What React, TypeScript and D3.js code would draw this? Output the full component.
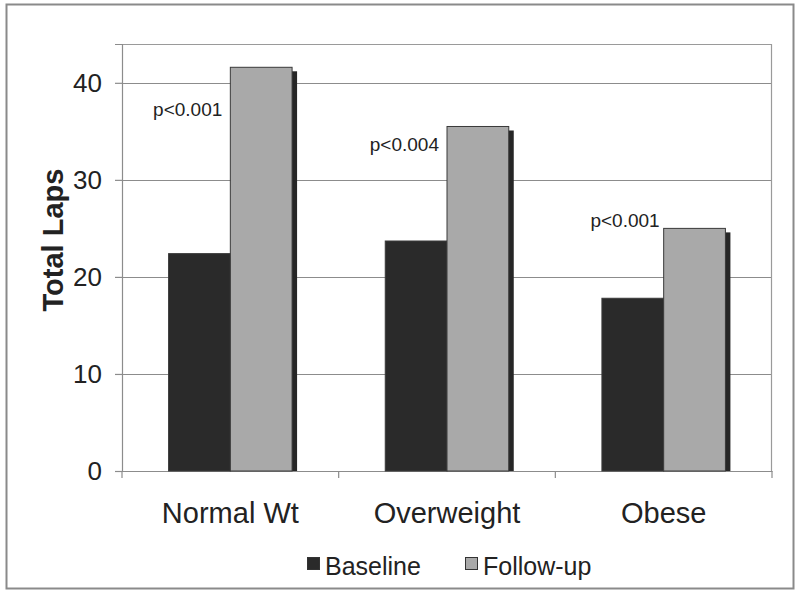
import { useEffect, useRef } from "react";
import * as d3 from "d3";

const categories = ["Normal Wt", "Overweight", "Obese"];
const seriesNames = ["Baseline", "Follow-up"];
const baseline = [22.4, 23.7, 17.8];
const followUp = [41.6, 35.5, 25.0];
const pLabels = ["p<0.001", "p<0.004", "p<0.001"];
// where each p-label's baseline sits, in axis units
const pLabelAt = [36.6, 33.0, 25.1];
const yTicks = [0, 10, 20, 30, 40];

const W = 800;
const H = 595;
const colors = ["#2a2a2a", "#a9a9a9"];
const font = "Arial, 'Liberation Sans', Helvetica, sans-serif";

export default function App() {
  const svgRef = useRef<SVGSVGElement>(null);

  useEffect(() => {
    if (!svgRef.current) return;
    const svg = d3.select(svgRef.current);
    svg.selectAll("*").remove();

    const margin = { top: 44, right: 28, bottom: 124, left: 122 };
    const width = W - margin.left - margin.right;
    const height = H - margin.top - margin.bottom;

    // Outer frame
    svg
      .append("rect")
      .attr("x", 6.5)
      .attr("y", 4.5)
      .attr("width", 787)
      .attr("height", 584)
      .attr("fill", "#fff")
      .attr("stroke", "#8a8a8a")
      .attr("stroke-width", 2);

    const g = svg
      .append("g")
      .attr("transform", `translate(${margin.left},${margin.top})`);

    const x0 = d3.scaleBand().domain(categories).range([0, width]).paddingInner(0).paddingOuter(0);
    const inner = x0.bandwidth() * 0.57;
    const x1 = d3
      .scaleBand()
      .domain(seriesNames)
      .range([(x0.bandwidth() - inner) / 2, (x0.bandwidth() + inner) / 2]);
    const y = d3.scaleLinear().domain([0, 44]).range([height, 0]);

    // Gridlines
    g.selectAll("line.grid")
      .data(yTicks.filter((t) => t > 0))
      .join("line")
      .attr("class", "grid")
      .attr("x1", 0)
      .attr("x2", width)
      .attr("y1", (d) => Math.round(y(d)) + 0.5)
      .attr("y2", (d) => Math.round(y(d)) + 0.5)
      .attr("stroke", "#8c8c8c")
      .attr("stroke-width", 1.2);

    // Plot border (top and right)
    g.append("path")
      .attr("d", `M0,0.5H${width - 0.5}V${height}`)
      .attr("fill", "none")
      .attr("stroke", "#9a9a9a")
      .attr("stroke-width", 1.2);

    // Y axis
    const yAxis = g.append("g").call(d3.axisLeft(y).tickValues(yTicks).tickSize(7).tickPadding(13));
    yAxis.select(".domain").attr("stroke", "#8c8c8c").attr("stroke-width", 1.2);
    yAxis.selectAll(".tick line").attr("stroke", "#8c8c8c").attr("stroke-width", 1.2);
    yAxis
      .selectAll("text")
      .attr("fill", "#222")
      .style("font-family", font)
      .style("font-size", "26px");

    // X axis
    const xAxis = g
      .append("g")
      .attr("transform", `translate(0,${height})`)
      .call(d3.axisBottom(x0).tickSize(0));
    xAxis.select(".domain").attr("stroke", "#8c8c8c").attr("stroke-width", 1.2);
    xAxis
      .selectAll("text")
      .attr("y", 52)
      .attr("dy", 0)
      .attr("fill", "#222")
      .style("font-family", font)
      .style("font-size", "29px");
    // category boundary ticks
    g.selectAll("line.xtick")
      .data(d3.range(categories.length + 1))
      .join("line")
      .attr("class", "xtick")
      .attr("x1", (i) => i * x0.bandwidth())
      .attr("x2", (i) => i * x0.bandwidth())
      .attr("y1", height)
      .attr("y2", height + 7)
      .attr("stroke", "#8c8c8c")
      .attr("stroke-width", 1.2);

    const groups = g
      .selectAll("g.cat")
      .data(categories)
      .join("g")
      .attr("class", "cat")
      .attr("transform", (d) => `translate(${x0(d)},0)`);

    const barData = (i: number) => [
      { s: seriesNames[0], v: baseline[i], c: colors[0] },
      { s: seriesNames[1], v: followUp[i], c: colors[1] },
    ];

    // Shadows
    groups
      .selectAll("rect.shadow")
      .data((_, i) => barData(i))
      .join("rect")
      .attr("class", "shadow")
      .attr("x", (d) => (x1(d.s) ?? 0) + 5)
      .attr("y", (d) => y(d.v) + 4)
      .attr("width", x1.bandwidth())
      .attr("height", (d) => height - y(d.v) - 4)
      .attr("fill", "#262626");

    // Bars
    groups
      .selectAll("rect.bar")
      .data((_, i) => barData(i))
      .join("rect")
      .attr("class", "bar")
      .attr("x", (d) => x1(d.s) ?? 0)
      .attr("y", (d) => y(d.v))
      .attr("width", x1.bandwidth())
      .attr("height", (d) => height - y(d.v))
      .attr("fill", (d) => d.c)
      .attr("stroke", "#3a3a3a")
      .attr("stroke-width", 1);

    // p-value labels
    groups
      .append("text")
      .attr("x", (_, i) => (x1(seriesNames[1]) ?? 0) - (i === 2 ? 4 : 8))
      .attr("y", (_, i) => y(pLabelAt[i]))
      .attr("text-anchor", "end")
      .style("font-family", font)
      .style("font-size", "19px")
      .attr("fill", "#222")
      .text((_, i) => pLabels[i]);

    // Y axis title
    svg
      .append("text")
      .attr("transform", `translate(63,240) rotate(-90)`)
      .attr("text-anchor", "middle")
      .style("font-family", font)
      .style("font-size", "29px")
      .style("font-weight", "bold")
      .attr("fill", "#222")
      .text("Total Laps");

    // Legend
    const legendX = [307, 465];
    const legend = svg
      .selectAll("g.legend")
      .data(seriesNames)
      .join("g")
      .attr("class", "legend")
      .attr("transform", (_, i) => `translate(${legendX[i]},575)`);
    legend
      .append("rect")
      .attr("x", 0.5)
      .attr("y", -17.5)
      .attr("width", 12)
      .attr("height", 12)
      .attr("fill", (_, i) => colors[i])
      .attr("stroke", "#333")
      .attr("stroke-width", 1);
    legend
      .append("text")
      .attr("x", 18)
      .attr("y", 0)
      .style("font-family", font)
      .style("font-size", "25px")
      .attr("fill", "#222")
      .text((d) => d);
  }, []);

  return (
    <svg
      ref={svgRef}
      width={W}
      height={H}
      style={{ position: "absolute", left: 0, top: 0, background: "#fff" }}
    />
  );
}
